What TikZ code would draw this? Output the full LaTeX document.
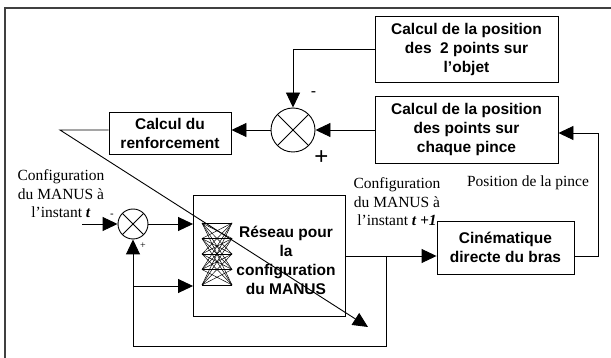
\documentclass[tikz,border=0pt]{standalone}
\usepackage{fontspec}
\setmainfont{Liberation Serif}
\setsansfont{Liberation Sans}
\usepackage{tikz}
\usetikzlibrary{calc,arrows.meta,positioning}

\begin{document}
\begin{tikzpicture}[x=1pt, y=-1pt, line join=miter,
		bloc/.style={draw, line width=0.9pt, inner sep=0pt, align=center,
			font=\sffamily\bfseries\fontsize{15.5}{19}\selectfont},
		sommateur/.style={draw, circle, line width=0.9pt, inner sep=0pt,
			path picture={
				\draw[line width=0.8pt] (path picture bounding box.north west) -- (path picture bounding box.south east);
				\draw[line width=0.8pt] (path picture bounding box.north east) -- (path picture bounding box.south west);}},
		fleche/.style={line width=0.9pt, -{Triangle[length=15pt, width=14pt]}},
		trait/.style={line width=0.9pt},
		legende/.style={align=center, inner sep=0pt, font=\fontsize{15.5}{18.5}\selectfont},
		signe/.style={inner sep=0pt, font=\sffamily}]
	
	\useasboundingbox (0,0) rectangle (611,358);
	
	%====================
	% 1) cadre
	%====================
	\draw[line width=1.3pt, black!75] (5,358) -- (5,8) -- (611,8);
	
	%====================
	% 2) blocs
	%====================
	\node[bloc, minimum width=183pt, minimum height=66pt] (objet) at (466.5,49)
		{Calcul de la position\\des \ 2 points sur\\l’objet};
	\node[bloc, minimum width=183pt, minimum height=67pt] (pince) at (466.5,129.5)
		{Calcul de la position\\des points sur\\chaque pince};
	\node[bloc, minimum width=122pt, minimum height=42pt] (renfort) at (170,133)
		{Calcul du\\renforcement};
	\node[bloc, minimum width=152pt, minimum height=121pt] (reseau) at (269.5,256) {};
	\node[bloc, draw=none] (reseautxt) at (286,260.5)
		{Réseau pour\\la\\configuration\\du MANUS};
	\node[bloc, minimum width=137pt, minimum height=53pt] (cinema) at (505.5,247.5)
		{Cinématique\\directe du bras};
	
	% sommateurs
	\node[sommateur, minimum size=44pt] (somHaut) at (293,130) {};
	\node[sommateur, minimum size=30pt] (somBas) at (133,224) {};
	
	%====================
	% 3) petit réseau de neurones (schéma)
	%====================
	\foreach \i in {0,...,4} {
		\foreach \j in {0,...,4} {
			\draw[line width=0.5pt] (202,223+15.5*\i) -- (232,223+15.5*\j);
		}
	}
	
	%====================
	% 4) boucle supérieure
	%====================
	\draw[fleche] (objet.west) -| (somHaut.north);
	\draw[fleche] (pince.west |- somHaut) -- (somHaut.east);
	\draw[fleche] (somHaut.west) -- (renfort.east |- somHaut);
	
	% trait de renforcement : barre oblique sur le réseau
	\coordinate (coude) at (60,130);
	\coordinate (pointe) at (368,327);
	\draw[fleche] (renfort.west |- somHaut) -- (coude) -- (pointe);
	
	%====================
	% 5) boucle inférieure
	%====================
	\coordinate (entree) at (82,224);
	\coordinate (sortie) at (386,256);
	\coordinate (basD) at (386,346);
	\coordinate (branche) at (133,286);
	\coordinate (coin) at (598,133);
	
	\draw[fleche] (entree) -- (somBas.west);
	\draw[fleche] (somBas.east) -- (somBas.east -| reseau.west);
	\draw[fleche] (sortie) -- (basD) -- (somBas |- basD) -- (somBas.south);
	\draw[fleche] (branche) -- (branche -| reseau.west);
	\draw[fleche] (reseau.east |- sortie) -- (cinema.west |- sortie);
	\draw[fleche] (cinema.east |- sortie) -| (coin) -- (pince.east |- coin);
	
	%====================
	% 6) signes et légendes
	%====================
	\node[signe, font=\sffamily\fontsize{16}{16}\selectfont] (moinsH) at (313.5,94) {-};
	\node[signe, font=\sffamily\fontsize{24}{24}\selectfont] (plusH) at (321.5,158) {+};
	\node[signe, font=\sffamily\fontsize{11}{11}\selectfont] (moinsB) at (112,216) {-};
	\node[signe, font=\fontsize{10}{10}\selectfont] (plusB) at (143,246) {+};
	
	\node[legende] (configT) at (61,194)
		{Configuration\\du MANUS à\\l’instant \textbf{\textit{t}}};
	\node[legende] (configT1) at (397,202)
		{Configuration\\du MANUS à\\l’instant \textbf{\textit{t +1}}};
	\node[legende] (posPince) at (528,183) {Position de la pince};
	
\end{tikzpicture}
\end{document}
